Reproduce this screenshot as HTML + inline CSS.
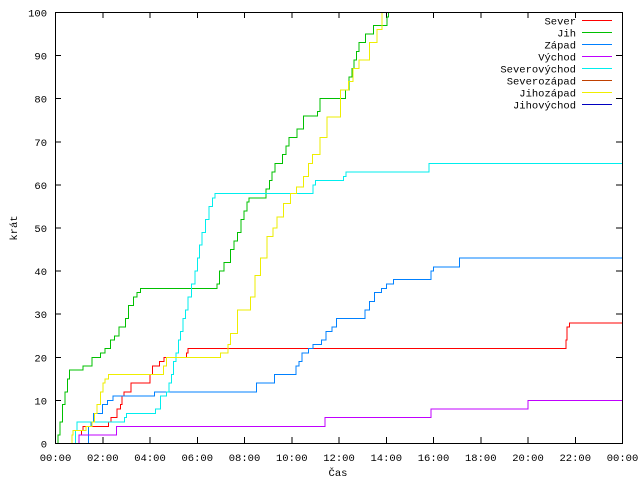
<!DOCTYPE html>
<html><head><meta charset="utf-8"><style>
body{margin:0;background:#fff}
svg text{font-family:"Liberation Mono","DejaVu Sans Mono",monospace;font-size:10.5px;fill:#000}
</style></head><body>
<svg id="c" width="640" height="480" xmlns="http://www.w3.org/2000/svg" shape-rendering="crispEdges">
<rect width="640" height="480" fill="#fff"/>
<g id="grid"></g><g id="series"></g><g id="legend"></g>
<rect x="55.5" y="12.5" width="567" height="431" fill="none" stroke="#000"/>
<text x="338" y="476" text-anchor="middle">Čas</text>
<text transform="translate(17,228) rotate(-90)" text-anchor="middle">krát</text>
</svg>
<script>
const xTicks=["00:00","02:00","04:00","06:00","08:00","10:00","12:00","14:00","16:00","18:00","20:00","22:00","00:00"];
const yTicks=[0,10,20,30,40,50,60,70,80,90,100];
const names=["Sever","Jih","Západ","Východ","Severovýchod","Severozápad","Jihozápad","Jihovýchod"];
const colors=["#ff0000","#00c000","#0080ff","#c000ff","#00eeee","#c04000","#eeee00","#0000c0"];
const sever=[[0.95,0],[1.0,2],[1.1,3],[1.16,4],[2.25,5],[2.35,6],[2.6,8],[2.75,9],[2.82,11],[2.9,12],[3.2,14],[4.0,16],[4.1,18],[4.4,19],[4.6,20],[5.55,21],[5.6,22],[21.6,24],[21.65,27],[21.75,28],[24,28]];
const jih=[[0.05,0],[0.1,2],[0.2,5],[0.3,9],[0.4,12],[0.5,15],[0.6,17],[1.17,18],[1.55,20],[1.9,21],[2.1,22],[2.33,24],[2.5,25],[2.68,27],[2.96,29],[3.1,32],[3.3,34],[3.45,35],[3.6,36],[6.84,37],[6.95,40],[7.13,42],[7.4,45],[7.55,47],[7.7,49],[7.85,52],[7.97,54],[8.1,56],[8.18,57],[8.92,59],[9.05,61],[9.17,63],[9.3,65],[9.6,67],[9.75,69],[9.88,71],[10.23,73],[10.5,76],[11.08,77],[11.2,80],[12.27,82],[12.42,85],[12.55,87],[12.63,89],[12.75,91],[12.84,93],[13.12,95],[13.47,97],[14.04,99],[14.1,100]];
const zapad=[[1.34,0],[1.4,4],[1.5,5],[1.6,7],[1.98,9],[2.2,10],[2.44,11],[4.19,12],[8.5,14],[9.27,16],[10.17,18],[10.3,19],[10.44,21],[10.7,22],[10.9,23],[11.25,24],[11.45,26],[11.7,27],[11.9,29],[13.1,31],[13.3,33],[13.5,35],[13.8,36],[14.0,37],[14.3,38],[15.9,40],[16.0,41],[16.2,41],[17.1,43],[24,43]];
const vychod=[[0.92,0],[1.0,2],[2.58,4],[11.4,6],[15.9,8],[20.0,10],[24,10]];
const severovychod=[[0.78,0],[0.85,3],[0.9,5],[2.92,6],[3.0,7],[4.23,8],[4.45,11],[4.7,12],[4.8,14],[4.9,16],[5.0,19],[5.1,21],[5.2,24],[5.3,26],[5.4,29],[5.5,31],[5.6,34],[5.75,37],[5.9,40],[6.0,43],[6.1,46],[6.2,49],[6.35,52],[6.5,55],[6.65,57],[6.75,58],[10.9,60],[11.0,61],[12.18,62],[12.3,63],[15.8,65],[24,65]];
const severozapad=[];
const jihozapad=[[0.66,0],[0.7,2],[0.75,3],[1.3,4],[1.55,5],[1.65,7],[1.75,9],[1.9,12],[2.0,14],[2.1,15],[2.25,16],[4.58,18],[4.7,20],[6.98,21],[7.3,23],[7.4,25.5],[7.7,31],[8.25,34],[8.45,39],[8.68,43],[8.96,48],[9.2,50],[9.38,52.5],[9.66,55.7],[9.95,58],[10.2,59.5],[10.5,62],[10.7,65],[10.87,67],[11.2,71],[11.5,75.7],[12.06,82],[12.4,84],[12.6,87],[12.84,89],[13.3,93],[13.6,96],[13.83,100]];
const jihovychod=[];
const allSeries=[sever,jih,zapad,vychod,severovychod,severozapad,jihozapad,jihovychod];
const X=h=>55.5+h*567/24, Y=v=>443.5-v*431/100;
const NS="http://www.w3.org/2000/svg";
const grid=document.getElementById('grid');
function mk(tag,attrs,parent){const e=document.createElementNS(NS,tag);for(const k in attrs)e.setAttribute(k,attrs[k]);parent.appendChild(e);return e;}
xTicks.forEach((t,i)=>{const x=X(i*2);
 const l=mk('path',{d:`M${x},443v-6M${x},12v6`,stroke:'#000'},grid);
 
 
 const tx=mk('text',{x:x,y:461,'text-anchor':'middle'},grid);tx.textContent=t;
 
 });
yTicks.forEach(v=>{const y=Y(v);
 const l=mk('path',{d:`M55,${y}h6M622,${y}h-6`,stroke:'#000'},grid);
 
 
 const tx=mk('text',{x:47,y:y+4,'text-anchor':'end'},grid);tx.textContent=v;
 
 });
const sg=document.getElementById('series');
allSeries.forEach((s,i)=>{if(!s.length)return;
 let d=`M${X(s[0][0])},${Y(s[0][1])}`;
 for(let k=1;k<s.length;k++){d+=`H${X(s[k][0])}V${Y(s[k][1])}`;}
 const p=mk('path',{d:d,fill:'none',stroke:colors[i],'stroke-width':1},sg);
 
 });
const lg=document.getElementById('legend');
names.forEach((n,i)=>{const y=20.5+i*12;
 const tx=mk('text',{x:576,y:y+4,'text-anchor':'end'},lg);tx.textContent=n;
 
 
 const l=mk('line',{x1:582,x2:612,y1:y,y2:y,stroke:colors[i]},lg);
 
 });
</script>
</body></html>
